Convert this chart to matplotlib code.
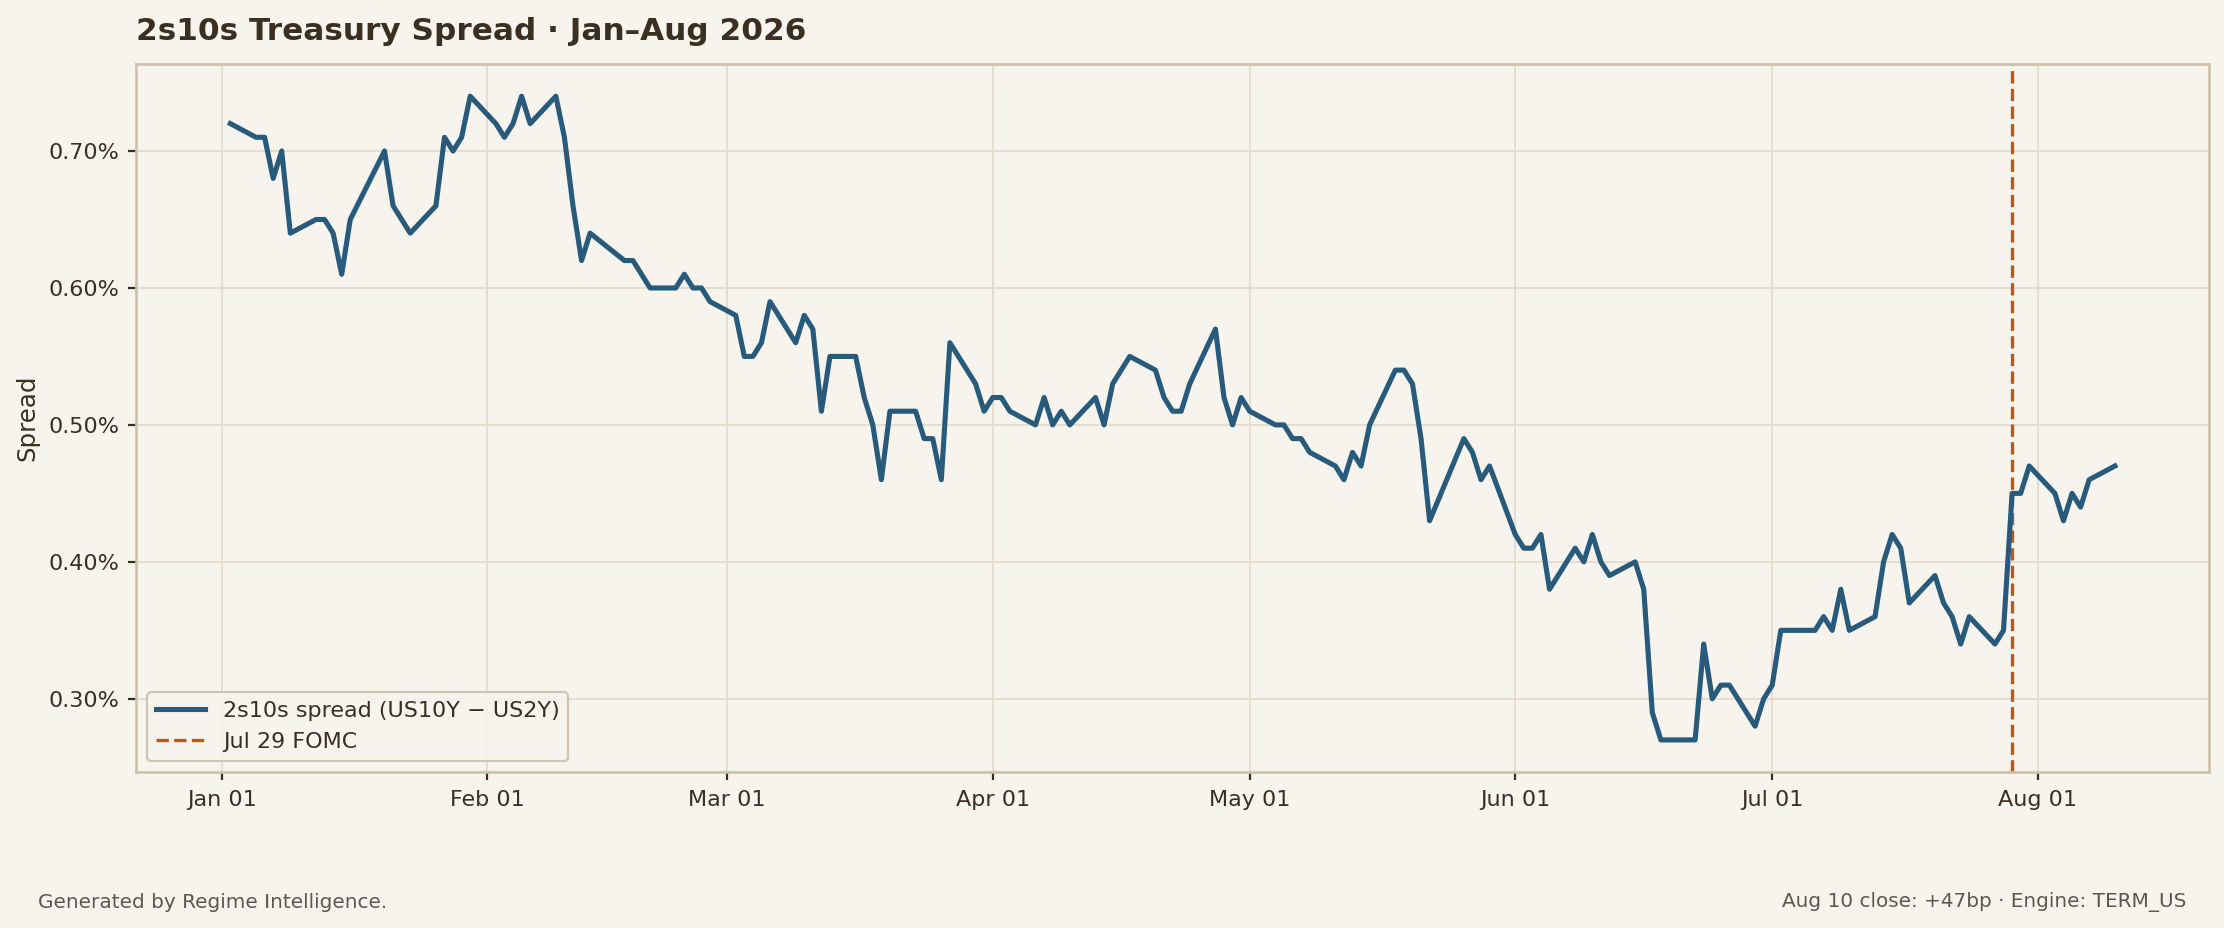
import matplotlib
matplotlib.use("Agg")

import matplotlib.dates as mdates
import matplotlib.pyplot as plt
import numpy as np
import pandas as pd
from matplotlib.ticker import FuncFormatter

# US market holidays inside the window (no print on these days)
HOLIDAYS = ["2026-01-19", "2026-02-16", "2026-05-25", "2026-06-19", "2026-07-03"]
START, END = "2026-01-02", "2026-08-10"
FOMC_DATE = "2026-07-29"

# 2s10s spread in percent, one close per business day
JAN = [0.72,
       0.71, 0.71, 0.68, 0.70, 0.64,
       0.65, 0.65, 0.64, 0.61, 0.65,
       0.70, 0.66, 0.65, 0.64,
       0.66, 0.71, 0.70, 0.71, 0.74]
FEB = [0.72, 0.71, 0.72, 0.74, 0.72,
       0.74, 0.71, 0.66, 0.62, 0.64,
       0.62, 0.62, 0.61, 0.60,
       0.60, 0.61, 0.60, 0.60, 0.59]
MAR = [0.58, 0.55, 0.55, 0.56, 0.59,
       0.56, 0.58, 0.57, 0.51, 0.55,
       0.55, 0.52, 0.50, 0.46, 0.51,
       0.51, 0.49, 0.49, 0.46, 0.56,
       0.53, 0.51]
APR = [0.52, 0.52, 0.51,
       0.50, 0.52, 0.50, 0.51, 0.50,
       0.52, 0.50, 0.53, 0.54, 0.55,
       0.54, 0.52, 0.51, 0.51, 0.53,
       0.57, 0.52, 0.50, 0.52]
MAY = [0.51,
       0.50, 0.50, 0.49, 0.49, 0.48,
       0.47, 0.46, 0.48, 0.47, 0.50,
       0.54, 0.54, 0.53, 0.49, 0.43,
       0.49, 0.48, 0.46, 0.47]
JUN = [0.42, 0.41, 0.41, 0.42, 0.38,
       0.41, 0.40, 0.42, 0.40, 0.39,
       0.40, 0.38, 0.29, 0.27,
       0.27, 0.34, 0.30, 0.31, 0.31,
       0.28, 0.30]
JUL = [0.31, 0.35,
       0.35, 0.36, 0.35, 0.38, 0.35,
       0.36, 0.40, 0.42, 0.41, 0.37,
       0.39, 0.37, 0.36, 0.34, 0.36,
       0.34, 0.35, 0.45, 0.45, 0.47]
AUG = [0.45, 0.43, 0.45, 0.44, 0.46,
       0.47]

TITLE = "2s10s Treasury Spread \u00b7 Jan\u2013Aug 2026"
SERIES_LABEL = "2s10s spread (US10Y \u2212 US2Y)"
FOMC_LABEL = "Jul 29 FOMC"
FOOTER_LEFT = "Generated by Regime Intelligence."
FOOTER_RIGHT = "Aug 10 close: +47bp \u00b7 Engine: TERM_US"

BG = "#f7f4ee"
INK = "#3b2f22"
SPINE = "#cbc1ac"
GRID = "#e3dccd"
LINE = "#285b7b"
FOMC = "#b85a1c"
MUTED = "#5f564c"


def main():
    spread = np.array(JAN + FEB + MAR + APR + MAY + JUN + JUL + AUG)
    dates = pd.bdate_range(START, END, freq="C", holidays=HOLIDAYS)
    assert len(dates) == len(spread), (len(dates), len(spread))

    plt.rcParams["font.family"] = ["DejaVu Sans"]

    fig = plt.figure(figsize=(13.9, 5.8), dpi=160, facecolor=BG)
    ax = fig.add_axes([0.0612, 0.168, 0.9321, 0.763])
    ax.set_facecolor(BG)

    ax.plot(dates, spread, color=LINE, lw=2.3, label=SERIES_LABEL, zorder=3)
    ax.axvline(pd.Timestamp(FOMC_DATE), color=FOMC, lw=1.5, ls="--", label=FOMC_LABEL, zorder=2)

    ax.xaxis.set_major_locator(mdates.MonthLocator())
    ax.xaxis.set_major_formatter(mdates.DateFormatter("%b %d"))
    ax.yaxis.set_major_formatter(FuncFormatter(lambda v, _: f"{v:.2f}%"))

    ax.grid(True, color=GRID, lw=0.8)
    ax.set_axisbelow(True)
    for spine in ax.spines.values():
        spine.set_color(SPINE)
        spine.set_linewidth(1.2)

    ax.tick_params(axis="both", colors=INK, labelsize=10, length=3.5, width=1.0)
    ax.tick_params(axis="x", pad=4.5)
    ax.tick_params(axis="y", pad=4)
    ax.set_ylabel("Spread", color=INK, fontsize=11, labelpad=4)

    ax.set_title(TITLE, loc="left", fontsize=14, fontweight="bold", color=INK, pad=11)

    leg = ax.legend(loc="lower left", fontsize=10, frameon=True, facecolor=BG,
                    edgecolor=SPINE, framealpha=0.9, handlelength=2.2)
    for text in leg.get_texts():
        text.set_color(INK)

    fig.text(0.017, 0.028, FOOTER_LEFT, color=MUTED, fontsize=9, ha="left", va="center")
    fig.text(0.983, 0.028, FOOTER_RIGHT, color=MUTED, fontsize=9, ha="right", va="center")

    fig.savefig("out.png", dpi=160, facecolor=BG)
    plt.close(fig)


if __name__ == "__main__":
    main()
